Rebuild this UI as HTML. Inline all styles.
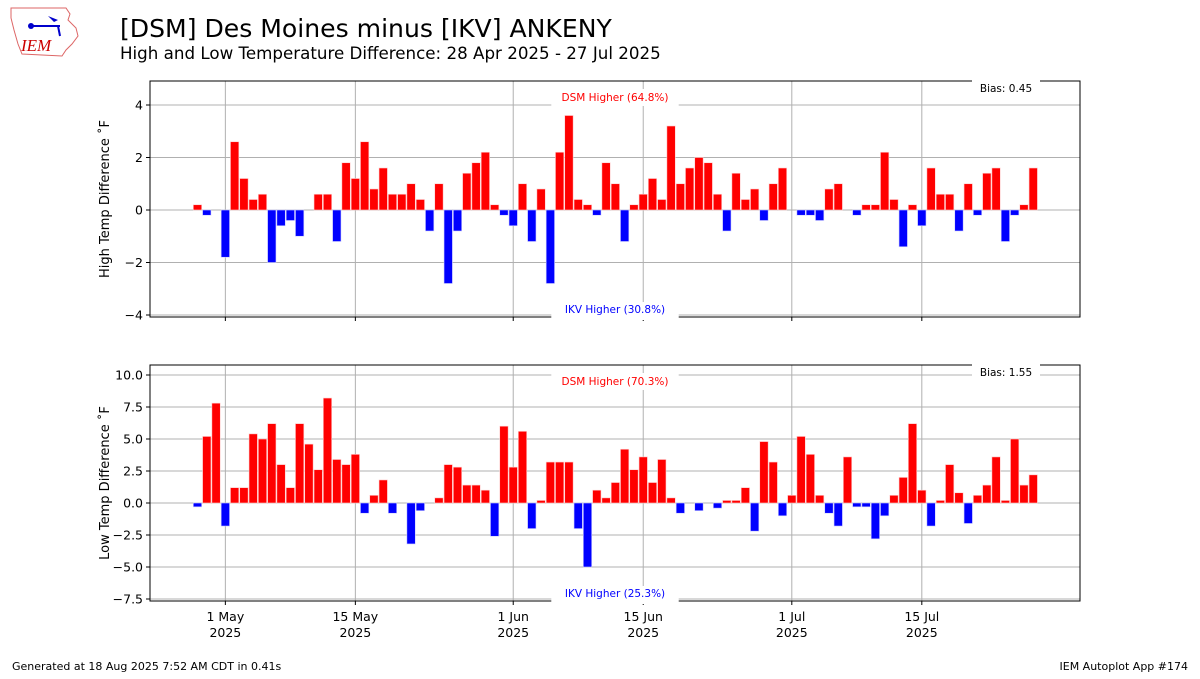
<!DOCTYPE html>
<html><head><meta charset="utf-8">
<style>
body{margin:0;background:#fff;width:1200px;height:675px;overflow:hidden;font-family:"DejaVu Sans","Liberation Sans",sans-serif;}
svg text{font-family:"DejaVu Sans","Liberation Sans",sans-serif;}
</style></head>
<body>
<svg id="chart" width="1200" height="675" viewBox="0 0 1200 675" xmlns="http://www.w3.org/2000/svg">
  <g>
    <path d="M11,8 L66,8 L70,14 L68,20 L76,28 L78,36 L72,44 L66,50 L62,56 L22,54 L18,44 L14,30 L11,18 Z" fill="none" stroke="#d66" stroke-width="1"/>
    <line x1="30" y1="26" x2="60" y2="26" stroke="#00c" stroke-width="2"/>
    <circle cx="31" cy="26" r="3" fill="#00c"/>
    <path d="M48,16 L58,20 L54,22 Z" fill="#00c"/>
    <line x1="58" y1="26" x2="60" y2="36" stroke="#00c" stroke-width="2"/>
    <text x="21" y="51" font-size="17" font-style="italic" fill="#c00" style="font-family:'Liberation Serif',serif">IEM</text>
  </g>
  <text x="120" y="37" font-size="25.1" fill="#000">[DSM] Des Moines minus [IKV] ANKENY</text>
  <text x="120" y="59" font-size="16.7" fill="#000">High and Low Temperature Difference: 28 Apr 2025 - 27 Jul 2025</text>
  <g id="top"></g>
  <g id="bot"></g>
  <text x="12" y="670" font-size="11">Generated at 18 Aug 2025 7:52 AM CDT in 0.41s</text>
  <text x="1188" y="670" font-size="11" text-anchor="end">IEM Autoplot App #174</text>
</svg>
<script>
const highDiff=[0.2,-0.2,0,-1.8,2.6,1.2,0.4,0.6,-2.0,-0.6,-0.4,-1.0,0,0.6,0.6,-1.2,1.8,1.2,2.6,0.8,1.6,0.6,0.6,1.0,0.4,-0.8,1.0,-2.8,-0.8,1.4,1.8,2.2,0.2,-0.2,-0.6,1.0,-1.2,0.8,-2.8,2.2,3.6,0.4,0.2,-0.2,1.8,1.0,-1.2,0.2,0.6,1.2,0.4,3.2,1.0,1.6,2.0,1.8,0.6,-0.8,1.4,0.4,0.8,-0.4,1.0,1.6,0,-0.2,-0.2,-0.4,0.8,1.0,0,-0.2,0.2,0.2,2.2,0.4,-1.4,0.2,-0.6,1.6,0.6,0.6,-0.8,1.0,-0.2,1.4,1.6,-1.2,-0.2,0.2,1.6];
const lowDiff=[-0.3,5.2,7.8,-1.8,1.2,1.2,5.4,5.0,6.2,3.0,1.2,6.2,4.6,2.6,8.2,3.4,3.0,3.8,-0.8,0.6,1.8,-0.8,0,-3.2,-0.6,0,0.4,3.0,2.8,1.4,1.4,1.0,-2.6,6.0,2.8,5.6,-2.0,0.2,3.2,3.2,3.2,-2.0,-5.0,1.0,0.4,1.6,4.2,2.6,3.6,1.6,3.4,0.4,-0.8,0,-0.6,0,-0.4,0.2,0.2,1.2,-2.2,4.8,3.2,-1.0,0.6,5.2,3.8,0.6,-0.8,-1.8,3.6,-0.3,-0.3,-2.8,-1.0,0.6,2.0,6.2,1.0,-1.8,0.2,3.0,0.8,-1.6,0.6,1.4,3.6,0.2,5.0,1.4,2.2];
const highTicks=[-4,-2,0,2,4];
const lowTicks=[-7.5,-5,-2.5,0,2.5,5,7.5,10];
const xTickDays=[3,17,34,48,64,78];
const xTickLabels=["1 May","15 May","1 Jun","15 Jun","1 Jul","15 Jul"];
const panelLabels=[["DSM Higher (64.8%)","IKV Higher (30.8%)","Bias: 0.45"],["DSM Higher (70.3%)","IKV Higher (25.3%)","Bias: 1.55"]];

const NS="http://www.w3.org/2000/svg";
const L=150,R=1080;
function xDay(d){return 197.5+d*9.286;}
function mk(tag,attrs,parent){const e=document.createElementNS(NS,tag);for(const k in attrs)e.setAttribute(k,attrs[k]);parent.appendChild(e);return e;}

function panel(g,data,ticks,top,bot,yAt,labels,showX,yTitle){
  const dec=ticks.some(v=>v%1!==0);
  ticks.forEach(t=>{
    const y=yAt(t);
    const gl=mk('line',{x1:L,x2:R,y1:y,y2:y,stroke:'#b0b0b0','stroke-width':1},g);
    
    
    mk('line',{x1:L-4,x2:L,y1:y,y2:y,stroke:'#000'},g);
    const tx=mk('text',{x:L-7,y:y+4.5,'font-size':12.5,'text-anchor':'end'},g);
    tx.textContent=(dec?t.toFixed(1):String(t)).replace('-','\u2212');
    
    
  });
  xTickDays.forEach((d,i)=>{
    const x=xDay(d);
    const gl=mk('line',{x1:x,x2:x,y1:top,y2:bot,stroke:'#b0b0b0','stroke-width':1},g);
    
    
    mk('line',{x1:x,x2:x,y1:bot,y2:bot+4,stroke:'#000'},g);
    if(showX){
      const t1=mk('text',{x:x,y:bot+20,'font-size':12.5,'text-anchor':'middle'},g);
      t1.textContent=xTickLabels[i];
      
      
      const t2=mk('text',{x:x,y:bot+36,'font-size':12.5,'text-anchor':'middle'},g);
      t2.textContent='2025';
      
      
    }
  });
  const y0=yAt(0);
  data.forEach((v,i)=>{
    if(v===0)return;
    const x=xDay(i)-4.2;
    const y=Math.min(yAt(v),y0),h=Math.abs(yAt(v)-y0);
    const b=mk('rect',{x:x,y:y,width:8.4,height:h,fill:v>0?'#ff0000':'#0000ff',stroke:v>0?'#ffd0d0':'#d0d0ff','stroke-width':0.6},g);
    
    
  });
  mk('rect',{x:L,y:top,width:R-L,height:bot-top,fill:'none',stroke:'#000','stroke-width':1},g);
  const cx=615;
  const w1=labels[0].length*6.3+14;
  mk('rect',{x:cx-w1/2,y:top+8,width:w1,height:17,fill:'#fff'},g);
  const a=mk('text',{x:cx,y:top+20,'font-size':10.5,fill:'#ff0000','text-anchor':'middle'},g);
  a.textContent=labels[0];
  
  
  mk('rect',{x:cx-w1/2,y:bot-15,width:w1,height:18,fill:'#fff'},g);
  const b2=mk('text',{x:cx,y:bot-4,'font-size':10.5,fill:'#0000ff','text-anchor':'middle'},g);
  b2.textContent=labels[1];
  
  
  mk('rect',{x:972,y:top-2,width:68,height:17,fill:'#fff'},g);
  const c=mk('text',{x:1006,y:top+11,'font-size':10.5,'text-anchor':'middle'},g);
  c.textContent=labels[2];
  
  
  const my=(top+bot)/2;
  const yt=mk('text',{x:109,y:my,'font-size':13,'text-anchor':'middle',transform:`rotate(-90 109 ${my})`},g);
  yt.textContent=yTitle;
  
  
}
panel(document.getElementById('top'),highDiff,highTicks,81,317,v=>210-v*26.25,panelLabels[0],false,'High Temp Difference  \u02DAF');
panel(document.getElementById('bot'),lowDiff,lowTicks,365,601,v=>503-v*12.8,panelLabels[1],true,'Low Temp Difference  \u02DAF');
</script>
</body></html>
